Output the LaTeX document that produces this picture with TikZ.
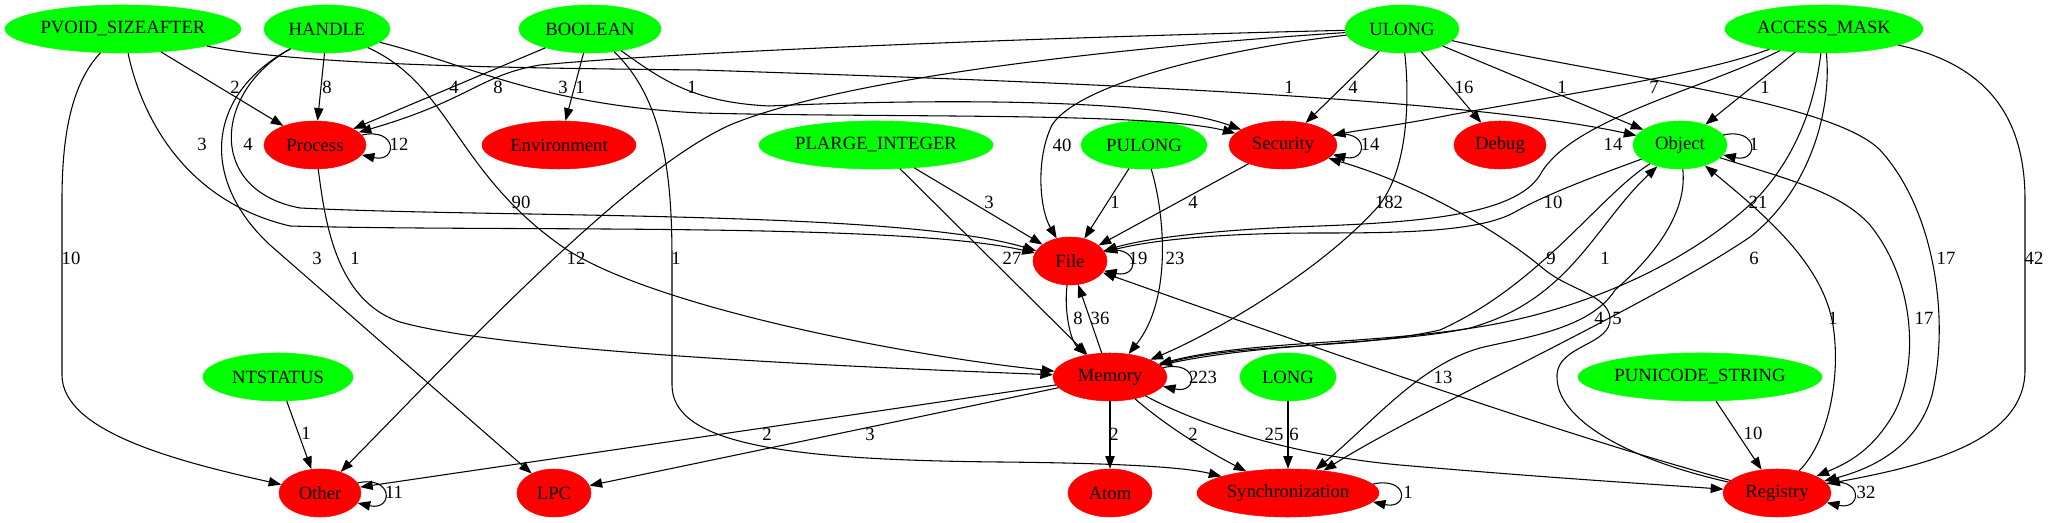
\documentclass[tikz,border=0pt]{standalone}
\usepackage{fontspec}
\setmainfont{Liberation Serif}
\usetikzlibrary{shapes.geometric,arrows.meta}
\definecolor{gvgreen}{RGB}{0,255,0}
\definecolor{gvred}{RGB}{255,0,0}
\begin{document}
\begin{tikzpicture}[x=0.75pt,y=-0.75pt,
  gnode/.style={ellipse,fill=gvgreen,draw=gvgreen,inner sep=0pt,minimum height=36pt,font=\fontsize{14}{16}\selectfont},
  rnode/.style={ellipse,fill=gvred,draw=gvred,inner sep=0pt,minimum height=36pt,font=\fontsize{14}{16}\selectfont},
  gvedge/.style={draw=black,line width=0.8pt,-{Triangle[length=9.5pt,width=7pt]}},
  elbl/.style={inner sep=0pt,font=\fontsize{14}{16}\selectfont}]
\useasboundingbox (0,0) rectangle (2050,523);
% ---------- nodes ----------
\node[gnode,minimum width=177pt]   (pvoid)   at (123,29)  {PVOID\_SIZEAFTER};
\node[gnode,minimum width=94.5pt]  (handle)  at (327,29)  {HANDLE};
\node[gnode,minimum width=106.5pt] (boolean) at (590,29)  {BOOLEAN};
\node[gnode,minimum width=85.5pt]  (ulong)   at (1402,29) {ULONG};
\node[gnode,minimum width=148.5pt] (access)  at (1824,29) {ACCESS\_MASK};
\node[rnode,minimum width=76.5pt]  (process) at (315,145) {Process};
\node[rnode,minimum width=115.5pt] (environment) at (559,145) {Environment};
\node[gnode,minimum width=175.5pt] (plarge)  at (876,145) {PLARGE\_INTEGER};
\node[gnode,minimum width=94.5pt]  (pulong)  at (1144,145) {PULONG};
\node[rnode,minimum width=81pt]    (security) at (1283,145) {Security};
\node[rnode,minimum width=69pt]    (debug)   at (1500,145) {Debug};
\node[gnode,minimum width=70.5pt]  (object)  at (1680,145) {Object};
\node[rnode,minimum width=55.5pt]  (file)    at (1070,261) {File};
\node[gnode,minimum width=112.5pt] (ntstatus) at (278,377) {NTSTATUS};
\node[rnode,minimum width=85.5pt]  (memory)  at (1110,377) {Memory};
\node[gnode,minimum width=72pt]    (long)    at (1288,377) {LONG};
\node[gnode,minimum width=183pt]   (punicode) at (1700,377) {PUNICODE\_STRING};
\node[rnode,minimum width=61.5pt]  (other)   at (320,493) {Other};
\node[rnode,minimum width=55.5pt]  (lpc)     at (554,493) {LPC};
\node[rnode,minimum width=63pt]    (atom)    at (1110,493) {Atom};
\node[rnode,minimum width=136.5pt] (sync)    at (1288,493) {Synchronization};
\node[rnode,minimum width=81pt]    (registry) at (1777,493) {Registry};
% ---------- edges ----------
% PVOID_SIZEAFTER
\draw[gvedge] (pvoid) -- (process);
\draw[gvedge] (pvoid) .. controls (300,65) and (500,68) .. (700,70) .. controls (1000,80) and (1450,95) .. (object);
\draw[gvedge] (pvoid) .. controls (140,110) and (180,200) .. (290,226) .. controls (500,232) and (900,222) .. (file);
\draw[gvedge] (pvoid) .. controls (70,85) and (62,140) .. (62,200) -- (62,375) .. controls (62,430) and (170,460) .. (other);
% HANDLE
\draw[gvedge] (handle) -- (process);
\draw[gvedge] (handle) .. controls (215,90) and (205,190) .. (300,208) .. controls (500,218) and (900,210) .. (file);
\draw[gvedge] (handle) .. controls (205,95) and (200,180) .. (270,245) -- (lpc);
\draw[gvedge] (handle) .. controls (450,85) and (455,170) .. (560,245) .. controls (644,305) and (900,355) .. (memory);
\draw[gvedge] (handle) .. controls (470,65) and (540,105) .. (700,113) .. controls (900,118) and (1150,112) .. (security);
% BOOLEAN
\draw[gvedge] (boolean) -- (process);
\draw[gvedge] (boolean) -- (environment);
\draw[gvedge] (boolean) .. controls (660,78) and (690,102) .. (769,106) .. controls (900,100) and (1150,96) .. (security);
\draw[gvedge] (boolean) .. controls (665,100) and (672,180) .. (672,260) -- (672,385) .. controls (672,445) and (790,460) .. (1000,462) .. controls (1100,463) and (1180,466) .. (sync);
% ULONG
\draw[gvedge] (ulong) .. controls (1100,36) and (700,50) .. (540,65) .. controls (480,75) and (470,100) .. (process);
\draw[gvedge] (ulong) .. controls (1150,45) and (850,75) .. (730,125) .. controls (630,170) and (470,340) .. (other);
\draw[gvedge] (ulong) .. controls (1230,48) and (1080,82) .. (1052,125) .. controls (1035,160) and (1040,210) .. (file);
\draw[gvedge] (ulong) -- (security);
\draw[gvedge] (ulong) -- (debug);
\draw[gvedge] (ulong) -- (object);
\draw[gvedge] (ulong) .. controls (1410,100) and (1408,175) .. (1375,210) .. controls (1320,270) and (1220,330) .. (memory);
\draw[gvedge] (ulong) .. controls (1600,75) and (1830,100) .. (1880,150) .. controls (1935,210) and (1950,320) .. (1932,395) .. controls (1918,445) and (1875,468) .. (registry);
% ACCESS_MASK
\draw[gvedge] (access) .. controls (1700,75) and (1560,95) .. (1450,115) .. controls (1400,125) and (1360,130) .. (security);
\draw[gvedge] (access) -- (object);
\draw[gvedge] (access) .. controls (1700,90) and (1570,120) .. (1540,175) .. controls (1515,215) and (1420,222) .. (1320,226) .. controls (1200,230) and (1140,240) .. (file);
\draw[gvedge] (access) .. controls (1815,100) and (1800,150) .. (1760,195) .. controls (1700,255) and (1600,305) .. (1490,325) .. controls (1380,345) and (1250,340) .. (memory);
\draw[gvedge] (access) .. controls (1832,110) and (1810,190) .. (1750,237) .. controls (1650,305) and (1420,410) .. (sync);
\draw[gvedge] (access) .. controls (1990,65) and (2025,120) .. (2025,200) -- (2025,370) .. controls (2025,440) and (1930,465) .. (registry);
% Process
\draw[gvedge] (process.12) .. controls +(36,-8) and +(36,8) .. (process.-12);
\draw[gvedge] (process) .. controls (325,220) and (335,300) .. (400,322) .. controls (500,350) and (800,365) .. (memory);
% PLARGE_INTEGER, PULONG
\draw[gvedge] (plarge) -- (file);
\draw[gvedge] (plarge) -- (memory);
\draw[gvedge] (pulong) -- (file);
\draw[gvedge] (pulong) .. controls (1165,215) and (1172,300) .. (memory);
% Security
\draw[gvedge] (security.11.5) .. controls +(36,-8) and +(36,8) .. (security.-11.5);
\draw[gvedge] (security) -- (file);
\draw[gvedge] (registry) .. controls (1630,460) and (1555,420) .. (1557,375) .. controls (1558,345) and (1612,345) .. (1610,318) .. controls (1608,295) and (1570,290) .. (1545,270) .. controls (1500,232) and (1420,185) .. (security);
% Object
\draw[gvedge] (object.13.2) .. controls +(36,-8) and +(36,8) .. (object.-13.2);
\draw[gvedge] (object) .. controls (1590,178) and (1545,195) .. (1515,212) .. controls (1480,232) and (1400,233) .. (1320,233) .. controls (1200,233) and (1140,243) .. (file);
\draw[gvedge] (object) .. controls (1600,195) and (1540,285) .. (1440,330) .. controls (1350,350) and (1250,342) .. (memory);
\draw[gvedge] (memory) .. controls (1260,342) and (1390,345) .. (1470,328) .. controls (1570,300) and (1595,225) .. (object);
\draw[gvedge] (object) .. controls (1688,215) and (1650,260) .. (1615,290) .. controls (1590,330) and (1520,338) .. (1480,348) .. controls (1420,365) and (1375,420) .. (sync);
\draw[gvedge] (object) .. controls (1790,180) and (1840,192) .. (1870,225) .. controls (1918,285) and (1918,370) .. (1893,415) .. controls (1872,450) and (1850,462) .. (registry);
\draw[gvedge] (registry) .. controls (1830,440) and (1842,370) .. (1832,320) .. controls (1820,262) and (1765,215) .. (object);
% File
\draw[gvedge] (file.16.6) .. controls +(36,-8) and +(36,8) .. (file.-16.6);
\draw[gvedge] (file) .. controls (1064,310) and (1070,340) .. (memory);
\draw[gvedge] (memory) -- (file);
\draw[gvedge] (registry) .. controls (1580,440) and (1350,360) .. (file);
% NTSTATUS
\draw[gvedge] (ntstatus) -- (other);
% Memory
\draw[gvedge] (memory.10.9) .. controls +(36,-8) and +(36,8) .. (memory.-10.9);
\draw[gvedge] (memory) -- (other);
\draw[gvedge] (memory) -- (lpc);
\draw[gvedge] (memory) -- (atom);
\draw[gvedge] (memory) .. controls (1165,425) and (1205,450) .. (sync);
\draw[gvedge] (memory) .. controls (1200,425) and (1290,455) .. (1400,465) .. controls (1550,478) and (1650,484) .. (registry);
% LONG, PUNICODE_STRING
\draw[gvedge] (long) -- (sync);
\draw[gvedge] (punicode) -- (registry);
% bottom loops
\draw[gvedge] (sync.6.9) .. controls +(36,-8) and +(36,8) .. (sync.-6.9);
\draw[gvedge] (registry.11.5) .. controls +(36,-8) and +(36,8) .. (registry.-11.5);
\draw[gvedge] (other.15) .. controls +(36,-8) and +(36,8) .. (other.-15);
% ---------- edge labels ----------
\node[elbl] (l01) at (235,87) {2};
\node[elbl] (l02) at (1289,87) {1};
\node[elbl] (l03) at (202,144) {3};
\node[elbl] (l04) at (71,258) {10};
\node[elbl] (l05) at (327,87) {8};
\node[elbl] (l06) at (248,144) {4};
\node[elbl] (l07) at (317,258) {3};
\node[elbl] (l08) at (521,202) {90};
\node[elbl] (l09) at (563,87) {3};
\node[elbl] (l10) at (454,87) {4};
\node[elbl] (l11) at (580,87) {1};
\node[elbl] (l12) at (692,87) {1};
\node[elbl] (l13) at (676,258) {1};
\node[elbl] (l14) at (498,87) {8};
\node[elbl] (l15) at (576,258) {12};
\node[elbl] (l16) at (1062,145) {40};
\node[elbl] (l17) at (1353,87) {4};
\node[elbl] (l18) at (1464,87) {16};
\node[elbl] (l19) at (1562,87) {1};
\node[elbl] (l20) at (1389,202) {182};
\node[elbl] (l21) at (1946,258) {17};
\node[elbl] (l22) at (1654,87) {7};
\node[elbl] (l23) at (1765,87) {1};
\node[elbl] (l24) at (1613,144) {14};
\node[elbl] (l25) at (1758,202) {21};
\node[elbl] (l26) at (1754,258) {6};
\node[elbl] (l27) at (2034,258) {42};
\node[elbl] (l28) at (399,144) {12};
\node[elbl] (l29) at (355,258) {1};
\node[elbl] (l30) at (989,202) {3};
\node[elbl] (l31) at (1012,258) {27};
\node[elbl] (l32) at (1115,202) {1};
\node[elbl] (l33) at (1175,258) {23};
\node[elbl] (l34) at (1370,144) {14};
\node[elbl] (l35) at (1193,202) {4};
\node[elbl] (l36) at (1617,318) {5};
\node[elbl] (l37) at (1754,144) {1};
\node[elbl] (l38) at (1553,202) {10};
\node[elbl] (l39) at (1551,258) {9};
\node[elbl] (l40) at (1605,258) {1};
\node[elbl] (l41) at (1599,318) {4};
\node[elbl] (l42) at (1924,318) {17};
\node[elbl] (l43) at (1833,318) {1};
\node[elbl] (l44) at (1138,258) {19};
\node[elbl] (l45) at (1078,318) {8};
\node[elbl] (l46) at (1100,318) {36};
\node[elbl] (l47) at (1443,377) {13};
\node[elbl] (l48) at (306,433) {1};
\node[elbl] (l49) at (1203,377) {223};
\node[elbl] (l50) at (767,434) {2};
\node[elbl] (l51) at (870,434) {3};
\node[elbl] (l52) at (1114,434) {2};
\node[elbl] (l53) at (1193,434) {2};
\node[elbl] (l54) at (1274,434) {25};
\node[elbl] (l55) at (1294,434) {6};
\node[elbl] (l56) at (1408,492) {1};
\node[elbl] (l57) at (1753,433) {10};
\node[elbl] (l58) at (1866,492) {32};
\node[elbl] (l59) at (394,492) {11};
\end{tikzpicture}
\end{document}
